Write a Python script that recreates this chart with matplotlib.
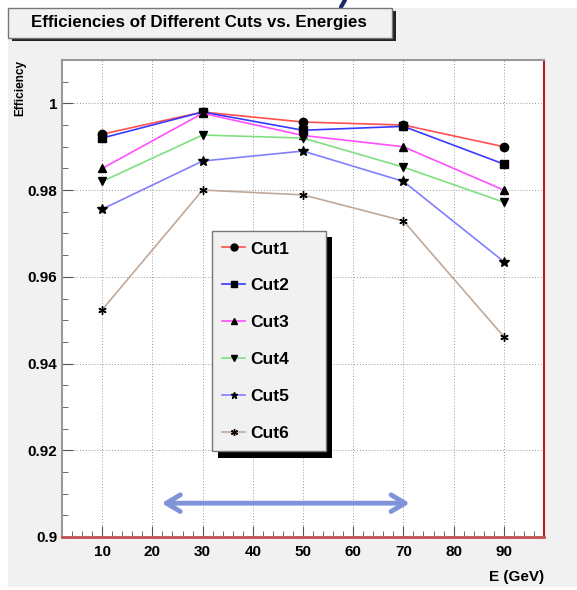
import matplotlib
matplotlib.use('Agg')
import matplotlib.pyplot as plt
from matplotlib.patches import Rectangle
from matplotlib.ticker import MultipleLocator
from matplotlib.lines import Line2D

plt.rcParams['font.family'] = ['Liberation Sans Narrow', 'Liberation Sans', 'DejaVu Sans']
plt.rcParams['font.weight'] = 'bold'

# data
energies = [10, 30, 50, 70, 90]
cut1 = [0.9929, 0.9980, 0.9957, 0.9950, 0.9900]
cut2 = [0.9920, 0.9980, 0.9938, 0.9947, 0.9860]
cut3 = [0.9850, 0.9977, 0.9926, 0.9900, 0.9800]
cut4 = [0.9820, 0.9927, 0.9920, 0.9853, 0.9772]
cut5 = [0.9756, 0.9867, 0.9890, 0.9820, 0.9635]
cut6 = [0.9524, 0.9800, 0.9789, 0.9729, 0.9462]
labels = ['Cut1', 'Cut2', 'Cut3', 'Cut4', 'Cut5', 'Cut6']
series = [cut1, cut2, cut3, cut4, cut5, cut6]
colors = ['#ff5050', '#3a3aff', '#ff50ff', '#80e080', '#8080ff', '#c0a898']
markers = ['o', 's', '^', 'v', '*', (6, 2, 0)]

W, H = 577, 590
fig = plt.figure(figsize=(W / 100, H / 100), dpi=100, facecolor='white')

# ROOT canvas background
fig.patches.append(Rectangle((8 / W, 3 / H), 1 - 8 / W, 1 - 11 / H, transform=fig.transFigure,
                             facecolor='#f1f1f1', edgecolor='none', zorder=-5))

ax = fig.add_axes([62 / W, 1 - 537 / H, (544 - 62) / W, (537 - 60) / H])
ax.set_facecolor('white')

for vals, lab, c, m in zip(series, labels, colors, markers):
    ax.plot(energies, vals, color=c, lw=1.2, marker=m, ms=7 if m == '*' else 6,
            mfc='black', mec='black', mew=1.0, label=lab, zorder=3)

ax.set_xlim(2, 98)
ax.set_ylim(0.9, 1.01)
ax.xaxis.set_minor_locator(MultipleLocator(2))
ax.yaxis.set_minor_locator(MultipleLocator(0.005))
ax.set_yticks([0.9, 0.92, 0.94, 0.96, 0.98, 1.0])
ax.set_yticklabels(['0.9', '0.92', '0.94', '0.96', '0.98', '1'])
ax.set_xticks([10, 20, 30, 40, 50, 60, 70, 80, 90])
ax.tick_params(which='both', direction='in', labelsize=11, colors='#555555',
               labelcolor='black')
ax.tick_params(which='major', length=8)
ax.tick_params(which='minor', length=4)
ax.tick_params(axis='x', pad=6)
ax.grid(True, which='major', ls=(0, (1, 2)), color='#999999', lw=0.7)
ax.set_axisbelow(True)

for s in ['left', 'top']:
    ax.spines[s].set_color('#999999')
    ax.spines[s].set_linewidth(1.5)
ax.spines['right'].set_color('#c01818')
ax.spines['right'].set_linewidth(1.5)
ax.spines['bottom'].set_color('#c05050')
ax.spines['bottom'].set_linewidth(2)

ax.set_xlabel('E (GeV)', fontsize=11, fontweight='bold')
ax.xaxis.set_label_coords(1.0, -0.07)
ax.xaxis.label.set_horizontalalignment('right')
ax.set_ylabel('Efficiency', fontsize=8.5, fontweight='bold')
ax.yaxis.set_label_coords(-0.1, 1.0)
ax.yaxis.label.set_verticalalignment('top')
ax.yaxis.label.set_horizontalalignment('right')

# legend with ROOT-style shadow
handles = [Line2D([], [], color=c, lw=1.2, marker=m, ms=5, mfc='black', mec='black')
           for c, m in zip(colors, markers)]
lx0, ly0, lw_, lh_ = 212, 231, 114, 221
fig.patches.append(Rectangle(((lx0 + 6) / W, 1 - (ly0 + lh_ + 6) / H), lw_ / W, lh_ / H,
                             transform=fig.transFigure, facecolor='black',
                             edgecolor='none', zorder=5))
leg = fig.legend(handles, labels, loc='upper left',
                 bbox_to_anchor=(lx0 / W, 1 - (ly0 + lh_) / H, lw_ / W, lh_ / H),
                 mode='expand', fontsize=12.5, frameon=True, fancybox=False,
                 edgecolor='#777777', facecolor='#f1f1f1', framealpha=1,
                 handlelength=1.3, handletextpad=0.3, labelspacing=1.25,
                 borderpad=0.6, borderaxespad=0)
leg.get_frame().set_linewidth(1.0)
leg.set_zorder(6)

# arrow annotation
ax.annotate('', xy=(21.3, 0.9078), xytext=(71.8, 0.9078),
            arrowprops=dict(arrowstyle='<->,head_length=1.0,head_width=0.6',
                            color='#7f93d8', lw=3.5), zorder=4)

# title box
tx0, ty0, tx1, ty1 = 8, 8, 392, 38
fig.patches.append(Rectangle(((tx0 + 4) / W, 1 - (ty1 + 3) / H), (tx1 - tx0) / W, (ty1 - ty0) / H,
                             transform=fig.transFigure, facecolor='#222222', edgecolor='none', zorder=2))
fig.patches.append(Rectangle((tx0 / W, 1 - ty1 / H), (tx1 - tx0) / W, (ty1 - ty0) / H,
                             transform=fig.transFigure, facecolor='#f1f1f1', edgecolor='#777777',
                             lw=1, zorder=3))
fig.text(199 / W, 1 - 22 / H, 'Efficiencies of Different Cuts vs. Energies',
         ha='center', va='center', fontsize=12.2, fontweight='bold', zorder=4)

# small slide artifact at top
fig.lines.append(Line2D([345 / W, 341 / W], [1.0, 1 - 7 / H], transform=fig.transFigure,
                        color='#1a2a6a', lw=3, solid_capstyle='round'))

fig.savefig('out.png', dpi=100, facecolor=fig.get_facecolor())
